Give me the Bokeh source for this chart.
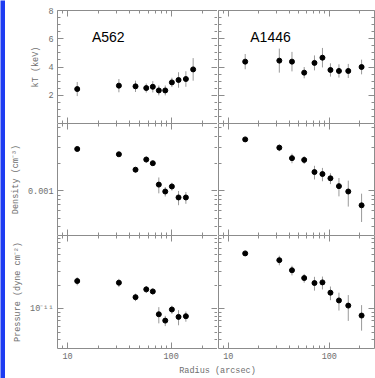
from bokeh.plotting import figure
from bokeh.models import (LinearAxis, LogAxis, FixedTicker, CustomJSTickFormatter,
                          Range1d, Label, CustomLabelingPolicy)
from bokeh.layouts import row, column
from bokeh.embed import file_html
from bokeh.resources import INLINE

# ---------------- data ----------------
# A562
a562_r_kt = [12.4, 31.3, 45.3, 57.5, 66.5, 76.0, 87.7, 101.6, 117.8, 138.7, 163.0]
a562_kt = [2.44, 2.68, 2.63, 2.51, 2.60, 2.34, 2.34, 2.91, 3.08, 3.15, 3.83]
a562_kt_err = [0.50, 0.47, 0.40, 0.32, 0.40, 0.35, 0.35, 0.33, 0.55, 0.55, 0.80]

a562_r = [12.4, 31.3, 45.3, 57.5, 66.5, 76.0, 87.7, 101.6, 117.8, 138.7]
a562_dens = [2.92e-3, 2.55e-3, 1.72e-3, 2.23e-3, 2.03e-3, 1.175e-3, 0.985e-3, 1.12e-3, 0.846e-3, 0.846e-3]
a562_dens_err = [0.06e-3, 0.08e-3, 0.12e-3, 0.18e-3, 0.12e-3, 0.235e-3, 0.118e-3, 0.112e-3, 0.152e-3, 0.127e-3]
a562_pres = [2.27e-11, 2.16e-11, 1.41e-11, 1.775e-11, 1.67e-11, 8.51e-12, 7.06e-12, 9.79e-12, 7.88e-12, 8.03e-12]
a562_pres_err = [0.27e-11, 0.26e-11, 0.155e-11, 0.18e-11, 0.15e-11, 2.0e-12, 1.06e-12, 1.17e-12, 1.73e-12, 1.2e-12]

# A1446
a1446_r = [14.7, 32.0, 42.7, 56.4, 71.3, 85.5, 102.6, 124.5, 154.0, 208.6]
a1446_kt = [4.38, 4.45, 4.38, 3.60, 4.29, 4.66, 3.79, 3.72, 3.72, 4.00]
a1446_kt_err = [0.54, 0.85, 0.69, 0.40, 0.53, 0.69, 0.47, 0.47, 0.50, 0.52]
a1446_dens = [3.73e-3, 3.02e-3, 2.31e-3, 2.21e-3, 1.62e-3, 1.54e-3, 1.38e-3, 1.13e-3, 0.985e-3, 0.692e-3]
a1446_dens_err = [0.075e-3, 0.26e-3, 0.28e-3, 0.22e-3, 0.28e-3, 0.26e-3, 0.19e-3, 0.26e-3, 0.315e-3, 0.24e-3]
a1446_pres = [5.13e-11, 4.20e-11, 3.12e-11, 2.48e-11, 2.14e-11, 2.18e-11, 1.61e-11, 1.28e-11, 1.10e-11, 8.20e-12]
a1446_pres_err = [0.15e-11, 0.59e-11, 0.44e-11, 0.32e-11, 0.43e-11, 0.41e-11, 0.32e-11, 0.33e-11, 0.40e-11, 2.95e-12]

cluster_names = ["A562", "A1446"]
x_major = [10, 100]
x_minor = [9, 20, 30, 40, 50, 60, 70, 80, 90, 200]
kt_major = [2, 4, 6, 8]
kt_minor = [0.5, 1, 1.5, 2.5, 3, 3.5, 4.5, 5, 5.5, 6.5, 7, 7.5]
dens_major = [1e-3]
dens_minor = [4e-4, 5e-4, 6e-4, 7e-4, 8e-4, 9e-4, 2e-3, 3e-3, 4e-3, 5e-3]
pres_major = [1e-11]
pres_minor = [4e-12, 5e-12, 6e-12, 7e-12, 8e-12, 9e-12, 2e-11, 3e-11, 4e-11, 5e-11, 6e-11, 7e-11, 8e-11]
x_title = "Radius (arcsec)"

# ---------------- style ----------------
GRAY = "#8c8c8c"
TXT = "#6e6e6e"
FONT = "Liberation Mono"
FS = "8.5px"
BLUE = "#1d3cf2"

x_ticker = FixedTicker(ticks=x_major, minor_ticks=x_minor)
int_fmt = CustomJSTickFormatter(code="return tick.toFixed(0);")
hide_policy = CustomLabelingPolicy(code="""
const all = [...indices];
for (const i of all) indices.unset(i);
return indices;
""")

rows_spec = [
    dict(kind="kt", ytype="linear", yr=(0, 8), ticks=kt_major, minor=kt_minor,
         fmt="return tick.toFixed(0);", label="kT (keV)",
         h=123, bt=10, bb=0),
    dict(kind="dens", ytype="log", yr=(3.2e-4, 5.6e-3), ticks=dens_major, minor=dens_minor,
         fmt="return '0.001';", label="Density (cm\u207b\u00b3)",
         h=112, bt=0, bb=0),
    dict(kind="pres", ytype="log", yr=(3.1e-12, 8.7e-11), ticks=pres_major, minor=pres_minor,
         fmt="return '10\u207b\u00b9\u00b9';", label="Pressure (dyne cm\u207b\u00b2)",
         h=128, bt=0, bb=15),
]

data = {
    ("kt", 0): (a562_r_kt, a562_kt, a562_kt_err),
    ("kt", 1): (a1446_r, a1446_kt, a1446_kt_err),
    ("dens", 0): (a562_r, a562_dens, a562_dens_err),
    ("dens", 1): (a1446_r, a1446_dens, a1446_dens_err),
    ("pres", 0): (a562_r, a562_pres, a562_pres_err),
    ("pres", 1): (a1446_r, a1446_pres, a1446_pres_err),
}


def style_axis(ax, show_labels, ticker, fmt):
    ax.ticker = ticker
    ax.formatter = fmt
    ax.axis_line_color = GRAY
    ax.major_tick_line_color = GRAY
    ax.minor_tick_line_color = GRAY
    ax.major_tick_in = 6
    ax.major_tick_out = 0
    ax.minor_tick_in = 3
    ax.minor_tick_out = 0
    ax.major_label_text_font = FONT
    ax.major_label_text_color = TXT
    if show_labels:
        ax.major_label_text_font_size = FS
        ax.major_label_standoff = 4
    else:
        ax.major_label_text_font_size = "0px"
        ax.major_label_standoff = 0
        ax.major_label_policy = hide_policy
    ax.axis_label_text_font = FONT
    ax.axis_label_text_font_size = FS
    ax.axis_label_text_font_style = "normal"
    ax.axis_label_text_color = TXT
    ax.axis_label_standoff = 4


rows = []
for ri, spec in enumerate(rows_spec):
    figs = []
    for ci in range(2):
        left_col = ci == 0
        bottom_row = ri == 2
        p = figure(x_axis_type="log", y_axis_type=spec["ytype"],
                   x_range=Range1d(8, 280), y_range=Range1d(*spec["yr"]),
                   width=212 if left_col else 158, height=spec["h"],
                   min_border_left=52 if left_col else 1,
                   min_border_right=0 if left_col else 1,
                   min_border_top=spec["bt"], min_border_bottom=spec["bb"],
                   toolbar_location=None, tools="", output_backend="svg")
        p.grid.visible = False
        p.outline_line_color = None
        p.background_fill_color = "white"
        p.border_fill_color = "white"

        AxisCls = LogAxis if spec["ytype"] == "log" else LinearAxis
        p.add_layout(LogAxis(), "above")
        p.add_layout(AxisCls(), "right")

        y_ticker = FixedTicker(ticks=spec["ticks"], minor_ticks=spec["minor"])
        y_fmt = CustomJSTickFormatter(code=spec["fmt"])

        style_axis(p.below[0], bottom_row, x_ticker, int_fmt)
        style_axis(p.above[0], False, x_ticker, int_fmt)
        style_axis(p.left[0], left_col, y_ticker, y_fmt)
        style_axis(p.right[0], False, y_ticker, y_fmt)
        if left_col:
            p.left[0].axis_label = spec["label"]

        r, v, e = data[(spec["kind"], ci)]
        lo = [a - b for a, b in zip(v, e)]
        hi = [a + b for a, b in zip(v, e)]
        p.segment(x0=r, y0=lo, x1=r, y1=hi, line_color="#9a9a9a", line_width=1)
        p.scatter(x=r, y=v, size=5, color="black")

        if spec["kind"] == "kt":
            p.add_layout(Label(x=17.2 if left_col else 16.5, y=6.1, text=cluster_names[ci],
                               text_font="Liberation Sans", text_font_size="14px",
                               text_color="black", text_baseline="alphabetic"))
        figs.append(p)
    rows.append(row(*figs))

# common x-axis title strip (spans both columns)
xl = figure(width=370, height=15, x_range=Range1d(0, 370), y_range=Range1d(0, 15),
            x_axis_location=None, y_axis_location=None, min_border=0,
            toolbar_location=None, tools="", output_backend="svg")
xl.grid.visible = False
xl.outline_line_color = None
xl.border_fill_color = "white"
xl.add_layout(Label(x=212, y=8, text=x_title, text_font=FONT, text_font_size=FS,
                    text_color=TXT, text_align="center", text_baseline="middle"))

# blue strip at the left edge
strip = figure(width=5, height=378, x_axis_location=None, y_axis_location=None,
               min_border=0, toolbar_location=None, tools="", output_backend="svg")
strip.grid.visible = False
strip.outline_line_color = None
strip.background_fill_color = BLUE
strip.border_fill_color = BLUE

layout = row(strip, column(*rows, xl))

with open("out.html", "w", encoding="utf-8") as f:
    f.write(file_html(layout, INLINE))
